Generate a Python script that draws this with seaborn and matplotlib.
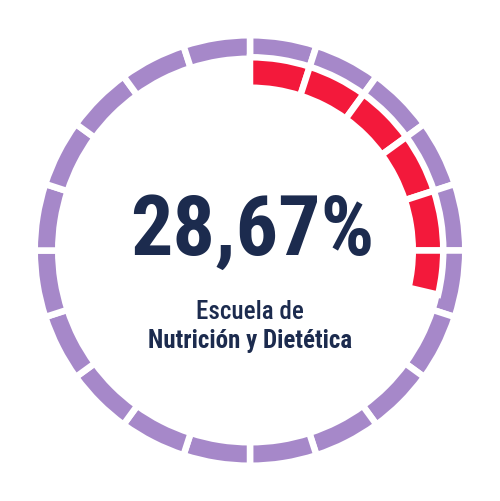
import matplotlib
matplotlib.use("Agg")
import matplotlib.pyplot as plt
import seaborn as sns

# ---- data ----
value_pct = 28.67
n_segments = 20
label_value = "28,67%"
label_line1 = "Escuela de"
label_line2 = "Nutrición y Dietética"

# ---- style ----
sns.set_theme(style="white")
plt.rcParams["font.family"] = ["Roboto Condensed", "DejaVu Sans"]
purple = "#A688C9"
red = "#F3193B"
navy = "#1C2B4E"

fig = plt.figure(figsize=(5.0, 5.01), dpi=100)
ax = fig.add_axes([0, 0, 1, 1])

gap_px = 6.5
lw = gap_px * 72 / 100

# outer ring: all segments
seg = 100 / n_segments
outer_vals = [seg] * n_segments
ax.pie(outer_vals, radius=212 + gap_px / 2, startangle=90, counterclock=False,
       colors=[purple] * n_segments,
       wedgeprops=dict(width=17 + gap_px, edgecolor="white", linewidth=lw))

# inner ring: value split into segment-sized pieces
full = int(value_pct // seg)
rest = value_pct - full * seg
inner_vals = [seg] * full + ([rest] if rest > 0 else []) + [100 - value_pct]
inner_cols = [red] * (len(inner_vals) - 1) + ["none"]
wedges, _ = ax.pie(inner_vals, radius=190 + gap_px / 2, startangle=90, counterclock=False,
                   colors=inner_cols,
                   wedgeprops=dict(width=24 + gap_px, edgecolor="white", linewidth=lw))
wedges[-1].set_edgecolor("none")

ax.set_xlim(-250, 250)
ax.set_ylim(-250.5, 250.5)
ax.set_aspect("equal")
ax.axis("off")

ax.text(2, -4.5, label_value, ha="center", va="baseline", fontsize=60.5,
        fontweight="bold", color=navy)
ax.text(0, -68.5, label_line1, ha="center", va="baseline", fontsize=18,
        fontweight="medium", color=navy)
ax.text(0, -97.5, label_line2, ha="center", va="baseline", fontsize=18,
        fontweight="bold", color=navy)

fig.savefig("out.png", dpi=100, facecolor="white")
